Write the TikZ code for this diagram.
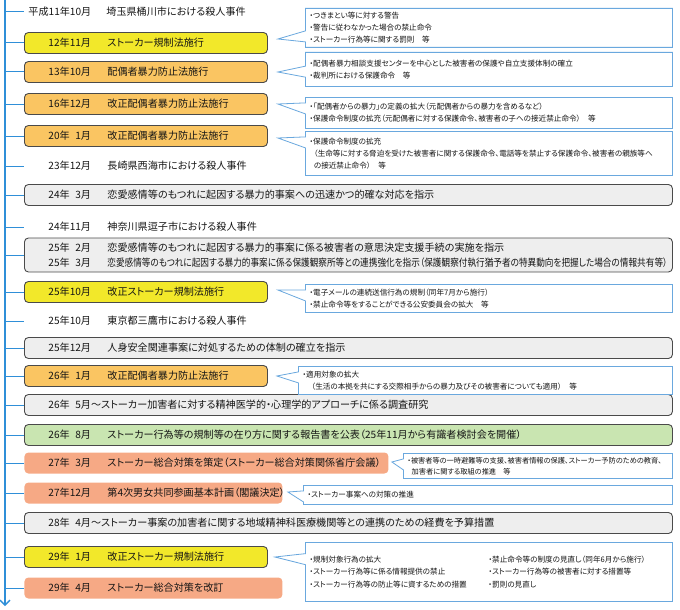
\documentclass[tikz,border=0pt]{standalone}
\usepackage{fontspec}
\setmainfont{Noto Sans CJK JP}[RawFeature=+palt]
\usetikzlibrary{shapes.callouts,calc,arrows.meta}

\definecolor{tlblue}{HTML}{2F8FD8}
\definecolor{cbdr}{HTML}{6AA8DE}
\definecolor{bdr}{HTML}{4A4A4A}
\definecolor{txt}{HTML}{151515}
\definecolor{ybg}{HTML}{F2E82A}
\definecolor{obg}{HTML}{FAC562}
\definecolor{gbg}{HTML}{EEEEEE}
\definecolor{grbg}{HTML}{C9E5B1}
\definecolor{sbg}{HTML}{F6A985}

\newcommand\mainfs{\fontsize{10.1}{13}\selectfont}
\newcommand\callfs{\fontsize{7.6}{11.8}\selectfont}
\newcommand\rowind{\hspace*{20pt}}
\newcommand\rdate[1]{\rowind\makebox[59pt][l]{#1}}

\tikzset{
  rowbox/.style={rectangle, rounded corners=4pt, draw=bdr, line width=0.9pt,
    inner xsep=4pt, inner ysep=2pt, minimum height=21pt, anchor=west,
    align=left, font=\mainfs, text=txt},
  ybox/.style={rowbox, fill=ybg},
  obox/.style={rowbox, fill=obg},
  gbox/.style={rowbox, fill=gbg},
  grbox/.style={rowbox, fill=grbg},
  sbox/.style={rowbox, fill=sbg, draw=none},
  plain/.style={rowbox, draw=none},
  narrow/.style={text width=235pt},
  wide/.style={text width=640pt},
  callbox/.style={rectangle callout, draw=cbdr, line width=0.8pt, fill=white,
    callout pointer width=11pt, inner xsep=4pt, inner ysep=2pt,
    anchor=north west, align=left, font=\callfs, text=txt},
  branch/.style={tlblue, line width=1pt},
}

\begin{document}
\begin{tikzpicture}[x=1pt, y=-1pt]
    % --- Canvas ---
    \useasboundingbox (0,0) rectangle (680,610);
    \def\boxL{24}   % left edge of all rows
    \def\callL{305} % left edge of the callouts

    % --- Time line ---
    \coordinate (tltop) at (5,0);
    \coordinate (tlbot) at (5,606);
    \draw[tlblue, line width=2.4pt, -{Straight Barb[length=5pt, width=10pt, line width=1.4pt]}] (tltop) -- (tlbot);

    % --- Rows ---
    \node[plain, text width=300pt] (r1) at (\boxL,12) {\makebox[78pt][l]{平成11年10月}埼玉県桶川市における殺人事件};
    \node[ybox, narrow] (b2) at (\boxL,43) {\rdate{12年11月}ストーカー規制法施行};
    \node[obox, narrow] (b3) at (\boxL,72) {\rdate{13年10月}配偶者暴力防止法施行};
    \node[obox, narrow] (b4) at (\boxL,104) {\rdate{16年12月}改正配偶者暴力防止法施行};
    \node[obox, narrow] (b5) at (\boxL,136) {\rdate{20年\phantom{1}1月}改正配偶者暴力防止法施行};
    \node[plain, narrow] (r6) at (\boxL,166) {\rdate{23年12月}長崎県西海市における殺人事件};
    \node[gbox, wide] (b7) at (\boxL,195) {\rdate{24年\phantom{1}3月}恋愛感情等のもつれに起因する暴力的事案への迅速かつ的確な対応を指示};
    \node[plain, narrow] (r8) at (\boxL,227) {\rdate{24年11月}神奈川県逗子市における殺人事件};
    \node[gbox, wide, minimum height=34pt, font=\fontsize{10.1}{15.5}\selectfont] (b9) at (\boxL,255)
      {\rdate{25年\phantom{1}2月}恋愛感情等のもつれに起因する暴力的事案に係る被害者の意思決定支援手続の実施を指示\\
       \rdate{25年\phantom{1}3月}\resizebox{560pt}{\height}{恋愛感情等のもつれに起因する暴力的事案に係る保護観察所等との連携強化を指示（保護観察付執行猶予者の特異動向を把握した場合の情報共有等）}};
    \node[ybox, narrow] (b10) at (\boxL,292) {\rdate{25年10月}改正ストーカー規制法施行};
    \node[plain, narrow] (r11) at (\boxL,321) {\rdate{25年10月}東京都三鷹市における殺人事件};
    \node[gbox, wide] (b12) at (\boxL,348) {\rdate{25年12月}人身安全関連事案に対処するための体制の確立を指示};
    \node[obox, narrow] (b13) at (\boxL,376) {\rdate{26年\phantom{1}1月}改正配偶者暴力防止法施行};
    \node[gbox, wide] (b14) at (\boxL,405) {\rowind 26年\phantom{1}5月～ストーカー加害者に対する精神医学的・心理学的アプローチに係る調査研究};
    \node[grbox, wide] (b15) at (\boxL,435) {\rdate{26年\phantom{1}8月}ストーカー行為等の規制等の在り方に関する報告書を公表（25年11月から有識者検討会を開催）};
    \node[sbox, text width=356pt] (b16) at (\boxL,463) {\rdate{27年\phantom{1}3月}ストーカー総合対策を策定（ストーカー総合対策関係省庁会議）};
    \node[sbox, text width=250pt] (b17) at (\boxL,493) {\rdate{27年12月}第4次男女共同参画基本計画（閣議決定）};
    \node[gbox, wide] (b18) at (\boxL,523) {\rowind 28年\phantom{1}4月～ストーカー事案の加害者に関する地域精神科医療機関等との連携のための経費を予算措置};
    \node[ybox, narrow] (b19) at (\boxL,557) {\rdate{29年\phantom{1}1月}改正ストーカー規制法施行};
    \node[sbox, text width=250pt] (b20) at (\boxL,588) {\rdate{29年\phantom{1}4月}ストーカー総合対策を改訂};

    % --- Branches to the time line ---
    \foreach \n in {r1,b2,b3,b4,b5,r6,b7,r8,b9,b10,r11,b12,b13,b14,b15,b16,b17,b18,b19,b20} {
        \draw[branch] (tltop |- \n.west) -- (\n.west);
    }

    % --- Callouts ---
    \node[callbox, text width=359pt, minimum height=39pt, callout absolute pointer={($(b2.east)+(10,-4)$)}] (c2) at (\callL,8)
      {・つきまとい等に対する警告\\・警告に従わなかった場合の禁止命令\\・ストーカー行為等に関する罰則　等};
    \node[callbox, text width=359pt, minimum height=34pt, callout absolute pointer={($(b3.east)+(10,0)$)}] (c3) at (\callL,52)
      {・配偶者暴力相談支援センターを中心とした被害者の保護や自立支援体制の確立\\・裁判所における保護命令　等};
    \node[callbox, text width=359pt, minimum height=31pt, callout absolute pointer={($(b4.east)+(10,0)$)}] (c4) at (\callL,97)
      {・「配偶者からの暴力」の定義の拡大（元配偶者からの暴力を含めるなど）\\・保護命令制度の拡充（元配偶者に対する保護命令、被害者の子への接近禁止命令）　等};
    \node[callbox, text width=359pt, minimum height=44pt, callout absolute pointer={($(b5.east)+(10,2)$)}] (c5) at (\callL,131)
      {・保護命令制度の拡充\\\hspace*{0.6em}（生命等に対する脅迫を受けた被害者に関する保護命令、電話等を禁止する保護命令、被害者の親族等へ\\\hspace*{0.6em}の接近禁止命令）　等};
    \node[callbox, text width=359pt, minimum height=28pt, callout absolute pointer={($(b10.east)+(10,-2)$)}] (c10) at (\callL,284)
      {・電子メールの連続送信行為の規制（同年7月から施行）\\・禁止命令等をすることができる公安委員会の拡大　等};
    \node[callbox, text width=366pt, minimum height=28pt, callout absolute pointer={($(b13.east)+(9,0)$)}] (c13) at (298,366)
      {・適用対象の拡大\\\hspace*{1.2em}（生活の本拠を共にする交際相手からの暴力及びその被害者についても適用）　等};
    \node[callbox, text width=261pt, minimum height=25pt, font=\fontsize{7.2}{11}\selectfont, callout absolute pointer={($(b16.east)+(3,-1)$)}] (c16) at (403,453)
      {・被害者等の一時避難等の支援、被害者情報の保護、ストーカー予防のための教育、\\\hspace*{0.6em}加害者に関する取組の推進　等};
    \node[callbox, text width=361pt, minimum height=19pt, callout absolute pointer={($(b17.east)+(5,-1)$)}] (c17) at (303,485)
      {・ストーカー事案への対策の推進};
    \node[callbox, text width=359pt, minimum height=59pt, font=\fontsize{7.6}{12.5}\selectfont, callout absolute pointer={($(b19.east)+(7,0)$)}] (c19) at (\callL,542)
      {\makebox[179pt][l]{・規制対象行為の拡大}・禁止命令等の制度の見直し（同年6月から施行）\\
       \makebox[179pt][l]{・ストーカー行為等に係る情報提供の禁止}・ストーカー行為等の被害者に対する措置等\\
       \makebox[179pt][l]{・ストーカー行為等の防止等に資するための措置}・罰則の見直し};
\end{tikzpicture}
\end{document}
